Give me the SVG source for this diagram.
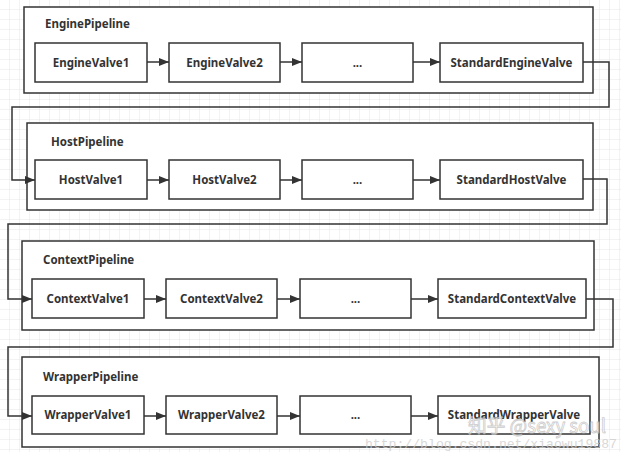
<svg xmlns="http://www.w3.org/2000/svg" width="621" height="452" viewBox="0 0 621 452">
<defs>
<pattern id="grid" width="10" height="10" patternUnits="userSpaceOnUse">
<path d="M10 0V10H0" fill="none" stroke="#e6e6e6" stroke-width="1"/>
</pattern>
<marker id="arr" markerWidth="10" markerHeight="8" refX="10" refY="4" orient="auto" markerUnits="userSpaceOnUse">
<path d="M0 0L10 4L0 8Z" fill="#333"/>
</marker>
<style>
.box{fill:#fff;stroke:#333;stroke-width:1.5}
.lbl{font-family:"Noto Sans","Open Sans",sans-serif;font-weight:bold;font-size:11.5px;fill:#333}
.ttl{font-family:"Noto Sans","Open Sans",sans-serif;font-weight:bold;font-size:11.5px;fill:#333}
.ln{fill:none;stroke:#333;stroke-width:1.5}
</style>
</defs>
<rect width="621" height="452" fill="#fff"/>
<rect width="621" height="452" fill="url(#grid)"/>

<g id="EnginePipeline">
<rect class="box" x="24" y="7" width="569" height="86"/>
<text class="ttl" x="45" y="28">EnginePipeline</text>
</g>
<g id="EngineValve1"><rect class="box" x="35" y="43" width="112" height="39"/><text class="lbl" x="91" y="66.5" text-anchor="middle">EngineValve1</text></g>
<g id="EngineValve2"><rect class="box" x="169" y="43" width="111" height="39"/><text class="lbl" x="224.5" y="66.5" text-anchor="middle">EngineValve2</text></g>
<g id="EngineDots"><rect class="box" x="302" y="43" width="111" height="39"/><text class="lbl" x="357.5" y="66.5" text-anchor="middle">...</text></g>
<g id="StandardEngineValve"><rect class="box" x="440" y="43" width="143" height="39"/><text class="lbl" x="511.5" y="66.5" text-anchor="middle">StandardEngineValve</text></g>

<g id="HostPipeline">
<rect class="box" x="27" y="123" width="566" height="87"/>
<text class="ttl" x="51" y="146">HostPipeline</text>
</g>
<g id="HostValve1"><rect class="box" x="35" y="160" width="112" height="39"/><text class="lbl" x="91" y="183.5" text-anchor="middle">HostValve1</text></g>
<g id="HostValve2"><rect class="box" x="169" y="160" width="111" height="39"/><text class="lbl" x="224.5" y="183.5" text-anchor="middle">HostValve2</text></g>
<g id="HostDots"><rect class="box" x="302" y="160" width="111" height="39"/><text class="lbl" x="357.5" y="183.5" text-anchor="middle">...</text></g>
<g id="StandardHostValve"><rect class="box" x="440" y="160" width="143" height="39"/><text class="lbl" x="511.5" y="183.5" text-anchor="middle">StandardHostValve</text></g>

<g id="ContextPipeline">
<rect class="box" x="22" y="241" width="572" height="89"/>
<text class="ttl" x="43" y="264">ContextPipeline</text>
</g>
<g id="ContextValve1"><rect class="box" x="32" y="279" width="112" height="39"/><text class="lbl" x="88" y="302.5" text-anchor="middle">ContextValve1</text></g>
<g id="ContextValve2"><rect class="box" x="166" y="279" width="111" height="39"/><text class="lbl" x="221.5" y="302.5" text-anchor="middle">ContextValve2</text></g>
<g id="ContextDots"><rect class="box" x="300" y="279" width="111" height="39"/><text class="lbl" x="355.5" y="302.5" text-anchor="middle">...</text></g>
<g id="StandardContextValve"><rect class="box" x="438" y="279" width="148" height="39"/><text class="lbl" x="512" y="302.5" text-anchor="middle">StandardContextValve</text></g>

<g id="WrapperPipeline">
<rect class="box" x="22" y="357" width="577" height="90"/>
<text class="ttl" x="43" y="381">WrapperPipeline</text>
</g>
<g id="WrapperValve1"><rect class="box" x="32" y="396" width="112" height="38"/><text class="lbl" x="88" y="419" text-anchor="middle">WrapperValve1</text></g>
<g id="WrapperValve2"><rect class="box" x="166" y="396" width="111" height="38"/><text class="lbl" x="221.5" y="419" text-anchor="middle">WrapperValve2</text></g>
<g id="WrapperDots"><rect class="box" x="300" y="396" width="111" height="38"/><text class="lbl" x="355.5" y="419" text-anchor="middle">...</text></g>
<g id="StandardWrapperValve"><rect class="box" x="438" y="396" width="152" height="38"/><text class="lbl" x="514" y="419" text-anchor="middle">StandardWrapperValve</text></g>

<g id="connectors">
<line class="ln" x1="147" y1="62" x2="169" y2="62" marker-end="url(#arr)"/>
<line class="ln" x1="280" y1="62" x2="302" y2="62" marker-end="url(#arr)"/>
<line class="ln" x1="413" y1="62" x2="440" y2="62" marker-end="url(#arr)"/>
<polyline class="ln" points="583,62 609,62 609,107 12,107 12,180 35,180" marker-end="url(#arr)"/>

<line class="ln" x1="147" y1="180" x2="169" y2="180" marker-end="url(#arr)"/>
<line class="ln" x1="280" y1="180" x2="302" y2="180" marker-end="url(#arr)"/>
<line class="ln" x1="413" y1="180" x2="440" y2="180" marker-end="url(#arr)"/>
<polyline class="ln" points="583,179 607,179 607,224 8,224 8,299 32,299" marker-end="url(#arr)"/>

<line class="ln" x1="144" y1="299" x2="166" y2="299" marker-end="url(#arr)"/>
<line class="ln" x1="277" y1="299" x2="300" y2="299" marker-end="url(#arr)"/>
<line class="ln" x1="411" y1="299" x2="438" y2="299" marker-end="url(#arr)"/>
<polyline class="ln" points="586,299 613,299 613,347 8,347 8,416 32,416" marker-end="url(#arr)"/>

<line class="ln" x1="144" y1="416" x2="166" y2="416" marker-end="url(#arr)"/>
<line class="ln" x1="277" y1="416" x2="300" y2="416" marker-end="url(#arr)"/>
<line class="ln" x1="411" y1="416" x2="438" y2="416" marker-end="url(#arr)"/>
</g>

<g id="watermark" opacity="0.75">
<text x="468" y="433" font-family="'Noto Sans CJK SC','Noto Sans',sans-serif" font-size="19" textLength="138" lengthAdjust="spacingAndGlyphs" fill="#fff" stroke="#bbb" stroke-width="0.8">知乎 @sexy soul</text>
<text x="365" y="448" font-family="'Liberation Mono',monospace" font-size="13" textLength="252" lengthAdjust="spacingAndGlyphs" fill="#ccc">http://blog.csdn.net/xiaowu19887</text>
</g>
</svg>
